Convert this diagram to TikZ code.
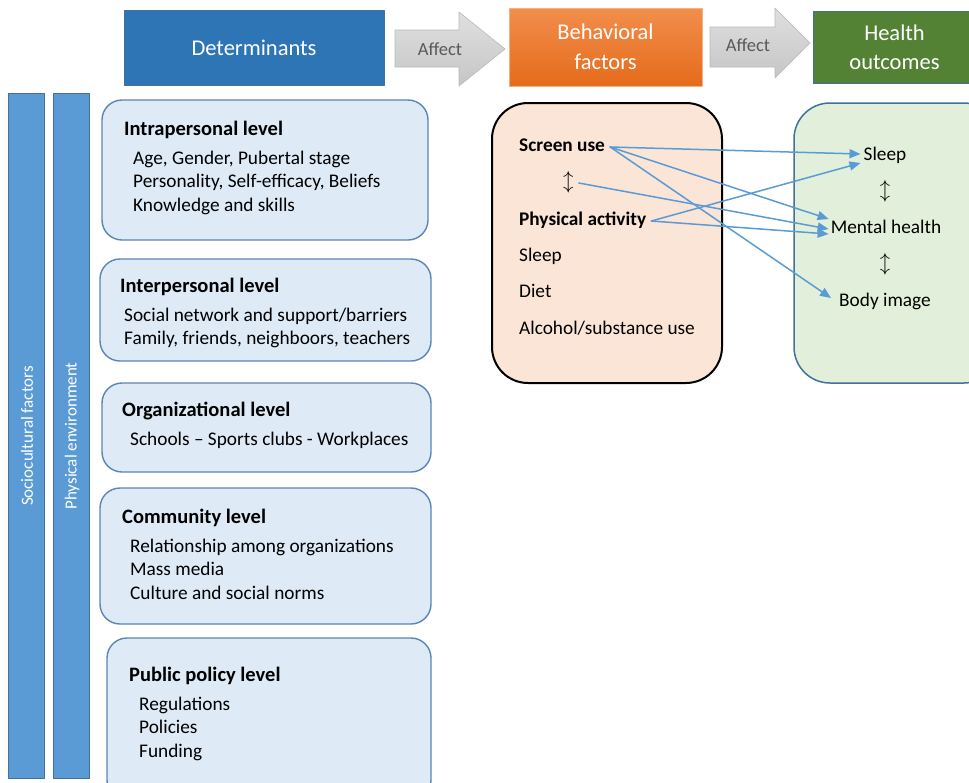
\documentclass[tikz,border=0pt]{standalone}
\usepackage{fontspec}
\setmainfont{Carlito}
\usepackage{tikz}
\usetikzlibrary{arrows.meta}
\definecolor{detblue}{HTML}{2E75B6}
\definecolor{detline}{HTML}{41719C}
\definecolor{barblue}{HTML}{5B9BD5}
\definecolor{lvlfill}{HTML}{DEEAF6}
\definecolor{lvlline}{HTML}{5A86B4}
\definecolor{behfill}{HTML}{FBE5D6}
\definecolor{hlthfill}{HTML}{E2EFDA}
\definecolor{hlthgreen}{HTML}{548235}
\definecolor{orangetop}{HTML}{F28E4C}
\definecolor{orangebot}{HTML}{E56B1B}
\definecolor{afftext}{HTML}{595959}
\tikzset{
  hdrbox/.style={draw=detline, line width=1pt, text=white, align=center, font=\fontsize{22.5}{30}\selectfont},
  lvlbox/.style={draw=lvlline, fill=lvlfill, line width=1.4pt, rounded corners=20pt},
  lvltitle/.style={anchor=base west, inner sep=0pt, font=\fontsize{20.5}{24}\selectfont\bfseries},
  lvltext/.style={anchor=base west, inner sep=0pt, font=\fontsize{19.3}{23.5}\selectfont},
  sidebar/.style={draw=detline, fill=barblue, line width=1pt},
  item/.style={anchor=west, inner xsep=5pt, text height=13pt, text depth=4pt, font=\fontsize{19.3}{23.5}\selectfont},
  link/.style={draw=barblue, line width=1.5pt, -{Triangle[length=11pt,width=9pt]}}
}
\begin{document}
\begin{tikzpicture}[line cap=round,line join=round,x=1pt,y=-1pt]
\useasboundingbox (0,0) rectangle (969,782);
\clip (0,0) rectangle (969,782);
% header row
\node[hdrbox, fill=detblue, minimum width=260pt, minimum height=75pt] (det) at (254,47.5) {Determinants};
\node[hdrbox, draw=orangetop!70, top color=orangetop, bottom color=orangebot, minimum width=193pt, minimum height=78pt] (beh) at (605.5,47) {Behavioral\\factors};
\node[hdrbox, fill=hlthgreen, minimum width=170pt, minimum height=72pt, anchor=west] (hlth) at (813,47) {\hspace*{-8pt}Health\\[-1pt]\hspace*{-8pt}outcomes};
\draw[draw=gray!55, top color=gray!25, bottom color=gray!45, line width=0.6pt] (395,30) -- (459,30) -- (459,12) -- (505,49) -- (459,86) -- (459,67) -- (395,67) -- cycle;
\node[text=afftext, font=\fontsize{18.5}{20}\selectfont] (aff1) at (440,49) {Affect};
\draw[draw=gray!55, top color=gray!25, bottom color=gray!45, line width=0.6pt] (710,27) -- (775,27) -- (775,8) -- (810,43) -- (775,78) -- (775,67) -- (710,67) -- cycle;
\node[text=afftext, font=\fontsize{18.5}{20}\selectfont] (aff2) at (748,45) {Affect};
% side bars
\draw[sidebar] (8,93) rectangle (44,778);
\draw[sidebar] (53,93) rectangle (89,778);
\node[rotate=90, text=white, font=\fontsize{17}{18}\selectfont] (socio) at (27,436) {Sociocultural factors};
\node[rotate=90, text=white, font=\fontsize{17}{18}\selectfont] (phys) at (72,436) {Physical environment};
% levels
\draw[lvlbox] (102,100) rectangle (428,240);
\node[lvltitle] (intraT) at (124,135) {Intrapersonal level};
\foreach \t [count=\i] in {{Age, Gender, Pubertal stage},{Personality, Self-efficacy, Beliefs},{Knowledge and skills}}
  \node[lvltext] (intra\i) at (133,164+23.5*\i-23.5) {\t};
\draw[lvlbox] (100,259) rectangle (431,361);
\node[lvltitle] (interT) at (120,292) {Interpersonal level};
\foreach \t [count=\i] in {{Social network and support/barriers},{Family, friends, neighboors, teachers}}
  \node[lvltext] (inter\i) at (124,321+23.5*\i-23.5) {\t};
\draw[lvlbox] (102,383) rectangle (431,472);
\node[lvltitle] (orgT) at (122,416) {Organizational level};
\node[lvltext] (org1) at (130,445) {Schools – Sports clubs - Workplaces};
\draw[lvlbox] (100,488) rectangle (431,624);
\node[lvltitle] (commT) at (122,523) {Community level};
\foreach \t [count=\i] in {{Relationship among organizations},{Mass media},{Culture and social norms}}
  \node[lvltext] (comm\i) at (130,552+23.5*\i-23.5) {\t};
\draw[lvlbox] (107,638) rectangle (431,800);
\node[lvltitle] (polT) at (129,681) {Public policy level};
\foreach \t [count=\i] in {{Regulations},{Policies},{Funding}}
  \node[lvltext] (pol\i) at (139,710+23.5*\i-23.5) {\t};
% behavioral factors
\draw[line width=2pt, fill=behfill, rounded corners=36pt] (492,103) rectangle (722,383);
\node[item, font=\fontsize{19.3}{23.5}\selectfont\bfseries] (scr) at (514,147) {Screen use};
\node[item] (ud1) at (558,183) {$\updownarrow$};
\node[item, font=\fontsize{19.3}{23.5}\selectfont\bfseries] (pa) at (514,221) {Physical activity};
\node[item] (bsl) at (514,257) {Sleep};
\node[item] (diet) at (514,293) {Diet};
\node[item] (alc) at (514,330) {Alcohol/substance use};
% health outcomes
\draw[line width=1.5pt, draw=detline, fill=hlthfill, rounded corners=36pt] (794,103) rectangle (1000,383);
\node[item, anchor=center] (hsl) at (885,156) {Sleep};
\node[item, anchor=center] (ud2) at (885,192) {$\updownarrow$};
\node[item, anchor=center] (mh) at (886,229) {Mental health};
\node[item, anchor=center] (ud3) at (885,265) {$\updownarrow$};
\node[item, anchor=center] (bi) at (885,302) {Body image};
% links
\draw[link] (scr.east) -- ([yshift=2pt,xshift=2pt]hsl.west);
\draw[link] (scr.east) -- ([yshift=10pt,xshift=3pt]mh.west);
\draw[link] (scr.east) -- ([yshift=4pt,xshift=-3pt]bi.west);
\draw[link] (ud1.east) -- ([xshift=3pt]mh.west);
\draw[link] (pa.east) -- ([yshift=-7pt,xshift=2pt]hsl.west);
\draw[link] (pa.east) -- ([yshift=-5pt,xshift=3pt]mh.west);
\end{tikzpicture}
\end{document}
